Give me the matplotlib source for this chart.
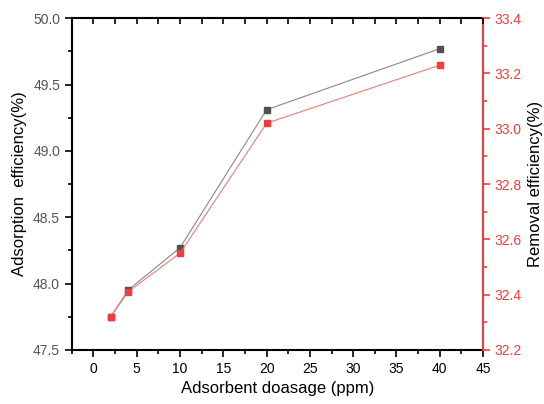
import matplotlib.pyplot as plt
from matplotlib.ticker import MultipleLocator

plt.rcParams['font.family'] = ['Liberation Sans', 'DejaVu Sans']

dosage = [2, 4, 10, 20, 40]
adsorption = [47.75, 47.95, 48.27, 49.31, 49.77]
removal = [32.32, 32.41, 32.55, 33.02, 33.23]

red = "#f03c3c"

fig = plt.figure(figsize=(5.44, 4.04), dpi=100)
ax = fig.add_axes([0.132, 0.134, 0.756, 0.821])
ax2 = ax.twinx()
ax3 = ax.twiny()

ax.plot(dosage, adsorption, "-", color="#888888", lw=0.8, zorder=2)
ax.plot(dosage, adsorption, "s", color="#505050", ms=5, zorder=3)
ax2.plot(dosage, removal, "-", color="#f47a7a", lw=0.8, zorder=2)
ax2.plot(dosage, removal, "s", color=red, ms=5, zorder=3)

ax.set_xlim(-2.5, 45)
ax3.set_xlim(-2.5, 45)
ax.set_ylim(47.5, 50.0)
ax2.set_ylim(32.2, 33.4)

for a in (ax, ax3):
    a.xaxis.set_major_locator(MultipleLocator(5))
    a.xaxis.set_minor_locator(MultipleLocator(2.5))
ax.yaxis.set_major_locator(MultipleLocator(0.5))
ax.yaxis.set_minor_locator(MultipleLocator(0.25))
ax2.yaxis.set_major_locator(MultipleLocator(0.2))
ax2.yaxis.set_minor_locator(MultipleLocator(0.1))
ax.yaxis.set_major_formatter(plt.FormatStrFormatter("%.1f"))
ax2.yaxis.set_major_formatter(plt.FormatStrFormatter("%.1f"))

for s in ["left", "bottom", "top"]:
    ax.spines[s].set_linewidth(1.5)
ax.spines["right"].set_visible(False)
for s in ["left", "bottom", "top", "right"]:
    ax3.spines[s].set_visible(False)
for s in ["left", "bottom", "top"]:
    ax2.spines[s].set_visible(False)
ax2.spines["right"].set_linewidth(1.5)
ax2.spines["right"].set_color(red)

ax.tick_params(axis="x", which="both", direction="out", width=1.2, labelsize=10)
ax.tick_params(axis="x", which="major", length=5)
ax.tick_params(axis="x", which="minor", length=3)
ax3.tick_params(axis="x", which="both", direction="in", width=1.2, length=4, labeltop=False)
ax.tick_params(axis="y", which="both", direction="out", width=1.2, labelsize=10, labelcolor="#555555")
ax.tick_params(axis="y", which="major", length=5)
ax.tick_params(axis="y", which="minor", length=3)
ax2.tick_params(axis="y", which="both", direction="out", width=1.2, color=red, labelcolor=red, labelsize=10)
ax2.tick_params(axis="y", which="major", length=5)
ax2.tick_params(axis="y", which="minor", length=3)

ax.set_xlabel("Adsorbent doasage (ppm)", fontsize=12)
ax.set_ylabel("Adsorption  efficiency(%)", fontsize=12)
ax2.set_ylabel("Removal efficiency(%)", fontsize=12)

fig.savefig("out.png", dpi=100)
